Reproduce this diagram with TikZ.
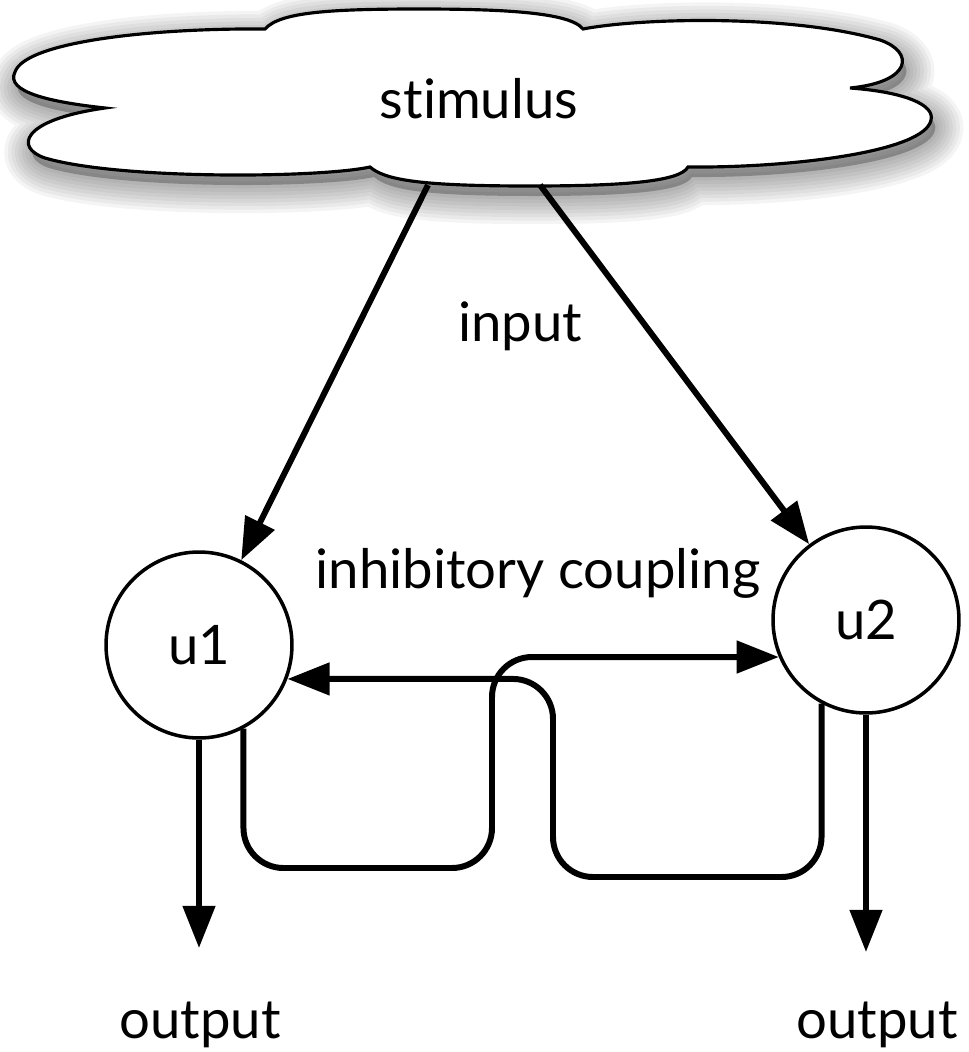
\documentclass[tikz,border=0pt]{standalone}
\usepackage{fontspec}
\setmainfont{Lato}[Ligatures={NoCommon}]
\usetikzlibrary{arrows.meta}

% outline of the stimulus cloud, in pixel units
\def\stimcloud{(265,29) .. controls (280,12) and (330,9) .. (420,9)
  .. controls (500,9) and (570,12) .. (583,29)
  .. controls (640,18) and (790,14) .. (880,40)
  .. controls (915,52) and (912,82) .. (850,88)
  .. controls (905,92) and (935,105) .. (931,120)
  .. controls (925,152) and (790,168) .. (688,167)
  .. controls (680,182) and (620,186) .. (530,186)
  .. controls (420,186) and (385,180) .. (370,167)
  .. controls (320,178) and (120,180) .. (45,158)
  .. controls (15,148) and (20,120) .. (105,108)
  .. controls (50,102) and (5,92) .. (15,72)
  .. controls (25,42) and (150,28) .. (265,29) -- cycle}

\begin{document}
\begin{tikzpicture}[x=0.02cm, y=-0.02cm,
    every node/.style={font=\fontsize{31}{37}\selectfont, inner sep=0pt},
    unit/.style={draw, circle, line width=2pt, minimum size=3.72cm, fill=white},
    feed/.style={line width=3.4pt, -{Triangle[length=24pt,width=18pt]}},
    coupling/.style={feed, rounded corners=0.8cm}]
    \useasboundingbox (0,0) rectangle (968,1052);
    % cloud with soft shadow
    \fill[black, opacity=0.25, shift={(4,10)}] \stimcloud;
    \foreach \w in {4pt,8pt,12pt,16pt,20pt,24pt,28pt,32pt}
      \draw[black, opacity=0.045, line width=\w, line join=round, shift={(4,10)}] \stimcloud;
    \filldraw[fill=white, draw=black, line width=1.8pt] \stimcloud;
    \node[anchor=base] (stim) at (479,118) {stimulus};
    \coordinate (s1) at (428,185);
    \coordinate (s2) at (540,185);
    % units
    \node[unit] (u1) at (199,645) {u1};
    \node[unit] (u2) at (866,620) {u2};
    \node[anchor=base] (in) at (520,341) {input};
    \node[anchor=base] (inh) at (538,588) {inhibitory coupling};
    \draw[feed] (s1) -- (u1);
    \draw[feed] (s2) -- (u2);
    % coupling loops
    \draw[coupling] (u1.-62) -- (u1.-62 |- 0,868) -- (492,868)
      -- (u2.203 -| 492,0) -- (u2.203);
    \draw[coupling] (u2.-118) -- (u2.-118 |- 0,877) -- (553,877)
      -- (u1.-21 -| 553,0) -- (u1.-21);
    % outputs
    \coordinate (o1) at (199,948);
    \coordinate (o2) at (866,952);
    \draw[feed] (u1) -- (o1);
    \draw[feed] (u2) -- (o2);
    \node[anchor=base] (out1) at (200,1038) {output};
    \node[anchor=base] (out2) at (877,1038) {output};
\end{tikzpicture}
\end{document}
